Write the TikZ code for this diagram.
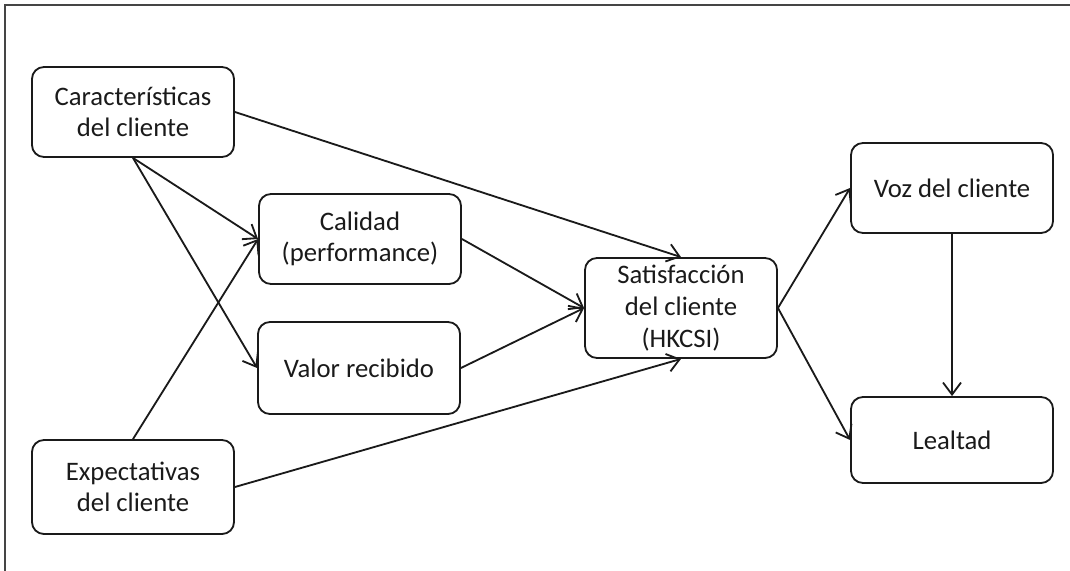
\documentclass[tikz,border=0pt]{standalone}
\usepackage{fontspec}
\setmainfont{Carlito}
\usepackage{tikz}
\usetikzlibrary{arrows.meta}
\definecolor{ink}{HTML}{1A1A1A}
\definecolor{edge}{HTML}{454545}
\tikzset{
  box/.style={draw=ink, line width=1.3pt, rounded corners=0.3cm, minimum width=5.05cm, minimum height=2.25cm, align=center, text=ink, inner sep=1pt, font=\fontsize{19}{22.5}\selectfont},
  link/.style={draw=ink, line width=1.3pt, -{Straight Barb[length=0.3cm,width=0.45cm]}},
  rim/.style={draw=edge, line width=1.5pt},
}

\begin{document}
\begin{tikzpicture}[x=0.025cm, y=-0.025cm]
  \useasboundingbox (0,0) rectangle (1070,571);
  \draw[rim] (5,571) -- (5,5) -- (1070,5);
  \node[box] (car) at (133,112) {Características\\del cliente};
  \node[box] (cal) at (360,239) {Calidad\\(performance)};
  \node[box, minimum height=2.3cm] (val) at (359,368) {Valor recibido};
  \node[box, minimum height=2.35cm] (exp) at (133,487) {Expectativas\\del cliente};
  \node[box, minimum width=4.8cm, minimum height=2.5cm] (sat) at (681,308) {Satisfacción\\del cliente\\(HKCSI)};
  \node[box] (voz) at (952,188) {Voz del cliente};
  \node[box, minimum height=2.15cm] (lea) at (952,440) {Lealtad};
  \draw[link] (car.south) -- (cal.west);
  \draw[link] (car.south) -- (val.west);
  \draw[link] (exp.north) -- (cal.west);
  \draw[link] (car.east) -- (sat.north);
  \draw[link] (cal.east) -- (sat.west);
  \draw[link] (val.east) -- (sat.west);
  \draw[link] (exp.east) -- (sat.south);
  \draw[link] (sat.east) -- (voz.west);
  \draw[link] (sat.east) -- (lea.west);
  \draw[link] (voz.south) -- (lea.north);
\end{tikzpicture}
\end{document}
